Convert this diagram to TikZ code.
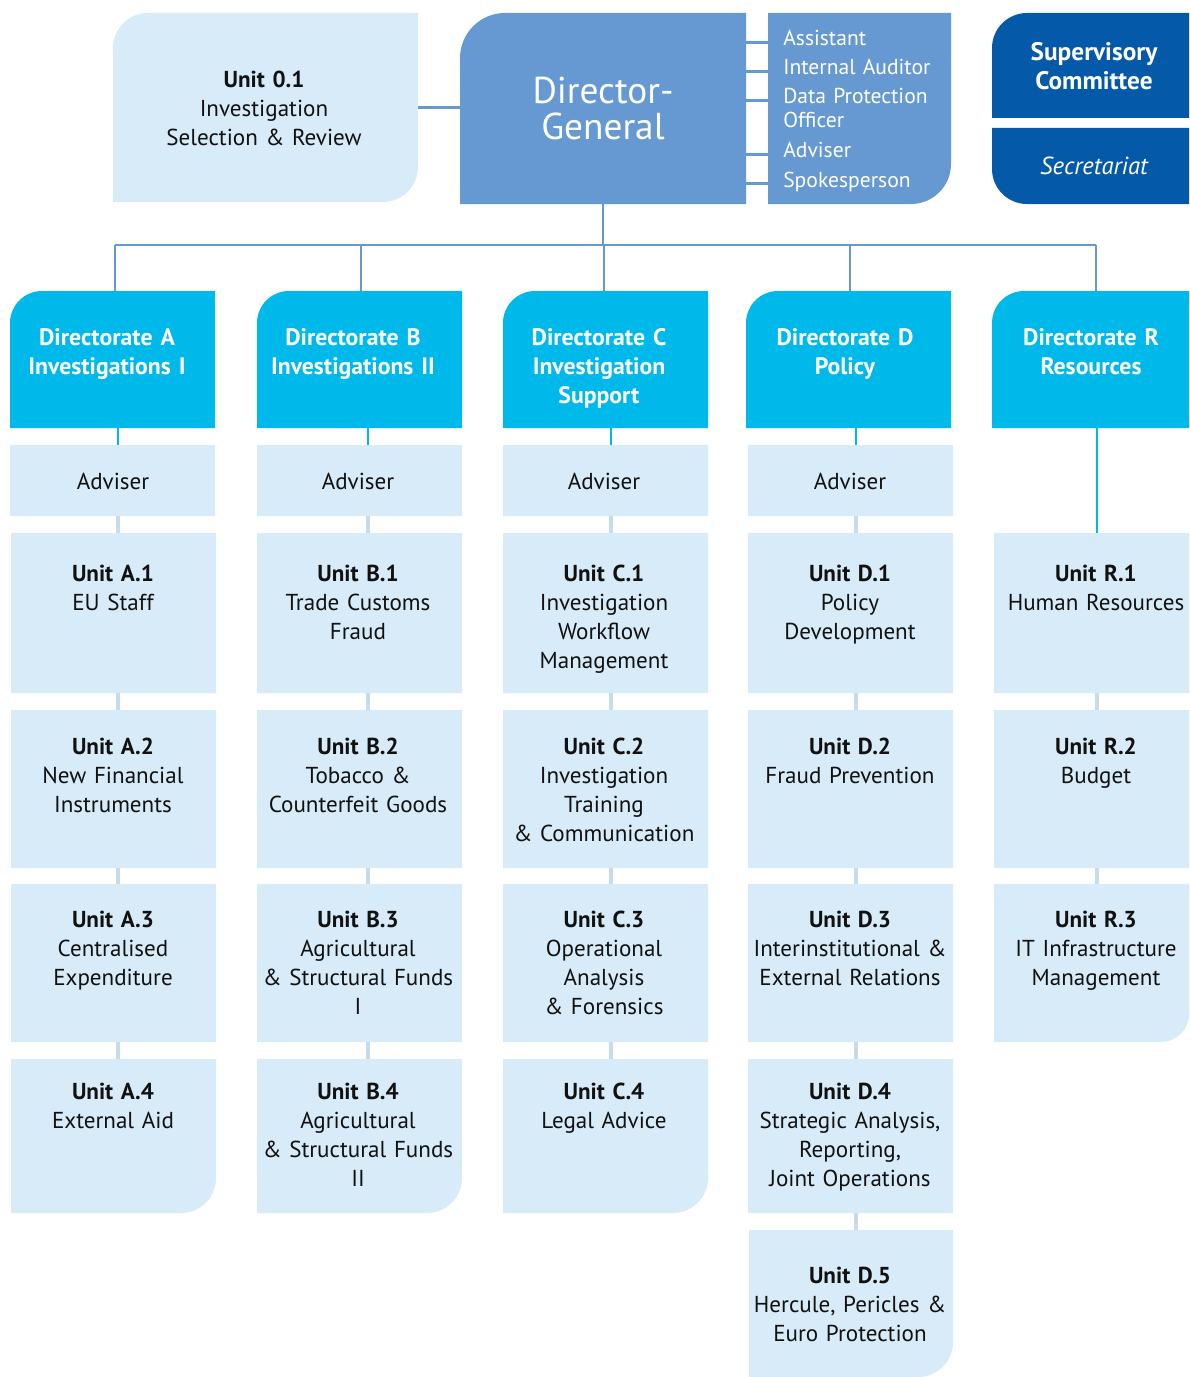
\documentclass[tikz,border=0pt]{standalone}
\usepackage{fontspec}
\setmainfont{PT Sans}
\definecolor{lightbox}{HTML}{D7EBF8}
\definecolor{midblue}{HTML}{6699D1}
\definecolor{cyanbox}{HTML}{00B9EB}
\definecolor{darkblue}{HTML}{0459A9}
\definecolor{unitline}{HTML}{C6DCEC}
\definecolor{ink}{HTML}{111111}
\pgfkeys{/rk/.is family,
  /rk/tl/.store in=\rTL, /rk/tr/.store in=\rTR,
  /rk/br/.store in=\rBR, /rk/bl/.store in=\rBL}
% #1 name, #2 fill, #3 x1, #4 y1, #5 x2, #6 y2, #7 corner radii
\newcommand\ubox[7]{%
  \pgfkeys{/rk/tl=0.01,/rk/tr=0.01,/rk/br=0.01,/rk/bl=0.01,/rk/.cd,#7}%
  \fill[#2] (#3,#4) ++(0,\rTL) arc[start angle=180,end angle=90,radius=\rTL*0.75pt]
    -- ({#5-\rTR},#4) arc[start angle=90,end angle=0,radius=\rTR*0.75pt]
    -- (#5,{#6-\rBR}) arc[start angle=0,end angle=-90,radius=\rBR*0.75pt]
    -- ({#3+\rBL},#6) arc[start angle=-90,end angle=-180,radius=\rBL*0.75pt]
    -- cycle;
  \node[inner sep=0, outer sep=0, anchor=north west,
        minimum width={(#5-#3)*0.75pt}, minimum height={(#6-#4)*0.75pt}] (#1) at (#3,#4) {};%
}
\tikzset{
  utext/.style={anchor=base, align=center, text width=190pt, text=ink,
                font=\fontsize{17.3}{21.75}\selectfont},
  dtext/.style={anchor=base, align=center, text width=190pt, text=white,
                font=\bfseries\fontsize{17.8}{21.75}\selectfont},
  stext/.style={anchor=base west, align=left, text width=150pt, inner sep=0pt, text=white,
                font=\fontsize{16.2}{18}\selectfont},
  busline/.style={draw=midblue, line width=2pt},
  dirline/.style={draw=cyanbox, line width=2.2pt},
  uline/.style={draw=unitline, line width=2.4pt},
}
\begin{document}
\begin{tikzpicture}[x=0.75pt, y=-0.75pt]
\useasboundingbox (0,0) rectangle (1189,1377);

% ---------- coordinates for connectors ----------
\coordinate (xA) at (118,0);
\coordinate (xB) at (368,0);
\coordinate (xC) at (611,0);
\coordinate (xD) at (856,0);
\coordinate (xR) at (1097,0);
\coordinate (busA) at (115,245);
\coordinate (busB) at (361,245);
\coordinate (busC) at (604,245);
\coordinate (busD) at (850,245);
\coordinate (busR) at (1096,245);

% ---------- top row ----------
\ubox{u01}{lightbox}{113}{13}{418}{202}{tl=35,br=35}
\ubox{dg}{midblue}{460}{13}{746}{204}{tl=45}
\ubox{staff}{midblue}{768}{13}{951}{204}{br=40}
\ubox{sup}{darkblue}{992}{13}{1189}{118}{tl=35}
\ubox{sec}{darkblue}{992}{128}{1189}{204}{bl=35}

\node[utext] (t01) at (264,88) {\textbf{Unit 0.1}\\Investigation\\Selection \& Review};
\node[anchor=base, align=center, text width=200pt, text=white,
      font=\fontsize{28}{27}\selectfont] (tdg) at (603,104) {Director-\\General};
\node[stext] (r1) at (783,46) {Assistant};
\node[stext] (r2) at (783,75) {Internal Auditor};
\node[stext] (r3) at (783,104) {Data Protection\\Officer};
\node[stext] (r4) at (783,158) {Adviser};
\node[stext] (r5) at (783,187) {Spokesperson};
\node[anchor=base, align=center, text width=190pt, text=white,
      font=\bfseries\fontsize{19}{21.75}\selectfont] (tsup) at (1094,61) {Supervisory\\Committee};
\node[anchor=base, text=white, font=\itshape\fontsize{18.5}{21.75}\selectfont] (tsec) at (1094,175) {Secretariat};

\draw[busline] (u01.east) -- (u01.east -| dg.west);
\foreach \r in {r1,r2,r3,r4,r5}
  \draw[busline] (dg.east |- \r.mid) -- (staff.west |- \r.mid);

% bus
\draw[busline] (dg.south) -- (dg.south |- busC);
\draw[busline] (busA) -- (busR);

% ---------- directorates ----------
\ubox{dA}{cyanbox}{10}{291}{215}{428}{tl=32}
\ubox{dB}{cyanbox}{257}{291}{462}{428}{tl=32}
\ubox{dC}{cyanbox}{503}{291}{708}{428}{tl=32}
\ubox{dD}{cyanbox}{746}{291}{951}{428}{tl=32}
\ubox{dR}{cyanbox}{992}{291}{1189}{428}{tl=32}
\foreach \b/\d in {busA/dA,busB/dB,busC/dC,busD/dD,busR/dR}
  \draw[busline] (\b) -- (\b |- \d.north);

\node[dtext] (tdA) at (107,345) {Directorate A\\Investigations I};
\node[dtext] (tdB) at (353,345) {Directorate B\\Investigations II};
\node[dtext] (tdC) at (599,345) {Directorate C\\Investigation\\Support};
\node[dtext] (tdD) at (845,345) {Directorate D\\Policy};
\node[dtext] (tdR) at (1091,345) {Directorate R\\Resources};

% ---------- advisers ----------
\ubox{aA}{lightbox}{10}{445}{215}{516}{}
\ubox{aB}{lightbox}{257}{445}{462}{516}{}
\ubox{aC}{lightbox}{503}{445}{708}{516}{}
\ubox{aD}{lightbox}{748}{445}{953}{516}{}
\foreach \c in {A,B,C,D}
  \draw[dirline] (d\c.south -| x\c) -- (a\c.north -| x\c);
\node[utext] (taA) at (113,489) {Adviser};
\node[utext] (taB) at (358,489) {Adviser};
\node[utext] (taC) at (604,489) {Adviser};
\node[utext] (taD) at (850,489) {Adviser};

% ---------- units ----------
% row 1
\ubox{A1}{lightbox}{11}{533}{216}{693}{}
\ubox{B1}{lightbox}{257}{533}{462}{693}{}
\ubox{C1}{lightbox}{503}{533}{708}{693}{}
\ubox{D1}{lightbox}{748}{533}{953}{693}{}
\ubox{R1}{lightbox}{994}{533}{1189}{693}{}
% row 2
\ubox{A2}{lightbox}{11}{710}{216}{868}{}
\ubox{B2}{lightbox}{257}{710}{462}{868}{}
\ubox{C2}{lightbox}{503}{710}{708}{868}{}
\ubox{D2}{lightbox}{748}{710}{953}{868}{}
\ubox{R2}{lightbox}{994}{710}{1189}{868}{}
% row 3
\ubox{A3}{lightbox}{11}{884}{216}{1042}{}
\ubox{B3}{lightbox}{257}{884}{462}{1042}{}
\ubox{C3}{lightbox}{503}{884}{708}{1042}{}
\ubox{D3}{lightbox}{748}{884}{953}{1042}{}
\ubox{R3}{lightbox}{994}{884}{1189}{1042}{br=28}
% row 4
\ubox{A4}{lightbox}{11}{1059}{216}{1213}{br=35}
\ubox{B4}{lightbox}{257}{1059}{462}{1213}{br=35}
\ubox{C4}{lightbox}{503}{1059}{708}{1213}{br=35}
\ubox{D4}{lightbox}{748}{1059}{953}{1213}{}
% row 5
\ubox{D5}{lightbox}{749}{1230}{953}{1377}{br=35}

% unit connectors
\foreach \c in {A,B,C,D}
  \draw[uline] (a\c.south -| x\c) -- (\c1.north -| x\c);
\foreach \c in {A,B,C,D,R}{
  \draw[uline] (\c1.south -| x\c) -- (\c2.north -| x\c);
  \draw[uline] (\c2.south -| x\c) -- (\c3.north -| x\c);
}
\foreach \c in {A,B,C,D}
  \draw[uline] (\c3.south -| x\c) -- (\c4.north -| x\c);
\draw[uline] (D4.south -| xD) -- (D5.north -| xD);
\draw[dirline] (dR.south -| xR) -- (R1.north -| xR);

% unit texts
\node[utext] (tA1) at (113,581) {\textbf{Unit A.1}\\EU Staff};
\node[utext] (tB1) at (358,581) {\textbf{Unit B.1}\\Trade Customs\\Fraud};
\node[utext] (tC1) at (604,581) {\textbf{Unit C.1}\\Investigation\\Workflow\\Management};
\node[utext] (tD1) at (850,581) {\textbf{Unit D.1}\\Policy\\Development};
\node[utext] (tR1) at (1096,581) {\textbf{Unit R.1}\\Human Resources};

\node[utext] (tA2) at (113,754) {\textbf{Unit A.2}\\New Financial\\Instruments};
\node[utext] (tB2) at (358,754) {\textbf{Unit B.2}\\Tobacco \&\\Counterfeit Goods};
\node[utext] (tC2) at (604,754) {\textbf{Unit C.2}\\Investigation\\Training\\\& Communication};
\node[utext] (tD2) at (850,754) {\textbf{Unit D.2}\\Fraud Prevention};
\node[utext] (tR2) at (1096,754) {\textbf{Unit R.2}\\Budget};

\node[utext] (tA3) at (113,927) {\textbf{Unit A.3}\\Centralised\\Expenditure};
\node[utext] (tB3) at (358,927) {\textbf{Unit B.3}\\Agricultural\\\& Structural Funds\\I};
\node[utext] (tC3) at (604,927) {\textbf{Unit C.3}\\Operational\\Analysis\\\& Forensics};
\node[utext] (tD3) at (850,927) {\textbf{Unit D.3}\\Interinstitutional \&\\External Relations};
\node[utext] (tR3) at (1096,927) {\textbf{Unit R.3}\\IT Infrastructure\\Management};

\node[utext] (tA4) at (113,1099) {\textbf{Unit A.4}\\External Aid};
\node[utext] (tB4) at (358,1099) {\textbf{Unit B.4}\\Agricultural\\\& Structural Funds\\II};
\node[utext] (tC4) at (604,1099) {\textbf{Unit C.4}\\Legal Advice};
\node[utext] (tD4) at (850,1099) {\textbf{Unit D.4}\\Strategic Analysis,\\Reporting,\\Joint Operations};

\node[utext] (tD5) at (850,1283) {\textbf{Unit D.5}\\Hercule, Pericles \&\\Euro Protection};
\end{tikzpicture}
\end{document}
